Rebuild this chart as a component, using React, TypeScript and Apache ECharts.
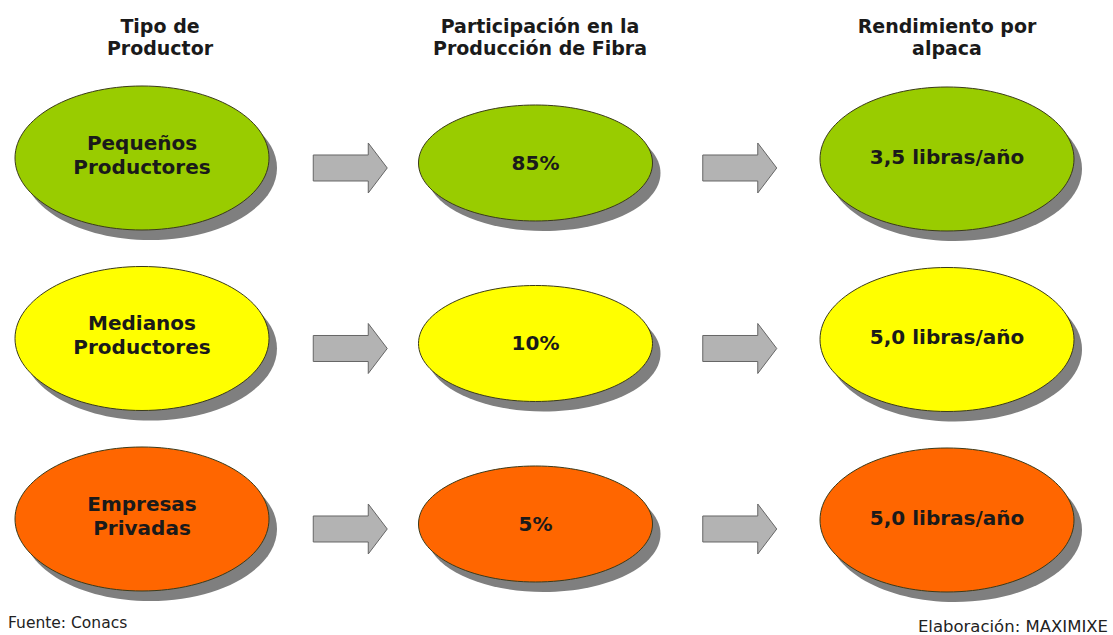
import React, { useEffect, useRef } from "react";
import * as echarts from "echarts";

const headers = ["Tipo de\nProductor", "Participación en la\nProducción de Fibra", "Rendimiento por\nalpaca"];
const producers = ["Pequeños\nProductores", "Medianos\nProductores", "Empresas\nPrivadas"];
const shares = [85, 10, 5];
const yields = [3.5, 5.0, 5.0];
const rowColors = ["#99cc00", "#ffff00", "#ff6600"];
const source = "Fuente: Conacs";
const credit = "Elaboración: MAXIMIXE";

// per-column ellipse radii and small layout nudges (styling only)
const colSize = [
  [127, 72],
  [117, 58],
  [127, 72],
];
const colNudge = [
  [0, 0],
  [-9, 5],
  [0, 1],
];
const textNudge = [-3, 0, -2];
const arrowNudge = [7, -6];

const FONT = "DejaVu Sans, Verdana, sans-serif";

export default function App() {
  const ref = useRef<HTMLDivElement>(null);
  useEffect(() => {
    if (!ref.current) return;
    const chart = echarts.init(ref.current, null, { renderer: "svg" });

    const fmt = (v: number) => v.toFixed(1).replace(".", ",") + " libras/año";
    const nodes: any[] = [];
    producers.forEach((p, r) => {
      nodes.push([0, r, p]);
      nodes.push([1, r, shares[r] + "%"]);
      nodes.push([2, r, fmt(yields[r])]);
    });
    const arrows: any[] = [];
    producers.forEach((_, r) => {
      arrows.push([0.5, r, 0]);
      arrows.push([1.5, r, 1]);
    });

    chart.setOption({
      animation: false,
      backgroundColor: "#ffffff",
      grid: { left: 0, right: 0, top: 0, bottom: 0 },
      xAxis: { type: "value", min: -0.3528, max: 2.4124, show: false },
      yAxis: { type: "value", min: -0.8753, max: 2.6427, inverse: true, show: false },
      graphic: [
        ...headers.map((h, i) => ({
          type: "text",
          x: [160, 540, 947][i],
          y: 37,
          style: {
            text: h,
            align: "center",
            verticalAlign: "middle",
            font: "bold 19px " + FONT,
            lineHeight: 22,
            fill: "#1a1a1a",
          },
        })),
        {
          type: "text",
          x: 8,
          y: 623,
          style: { text: source, align: "left", verticalAlign: "middle", font: "15.5px " + FONT, fill: "#222" },
        },
        {
          type: "text",
          x: 1108,
          y: 626,
          style: { text: credit, align: "right", verticalAlign: "middle", font: "16.5px " + FONT, fill: "#222" },
        },
      ],
      series: [
        {
          type: "custom",
          name: "nodes",
          data: nodes,
          renderItem: (params: any, api: any) => {
            const c = api.value(0);
            const r = api.value(1);
            const label = nodes[params.dataIndex][2];
            const [px, py] = api.coord([c, r]);
            const cx = px + colNudge[c][0];
            const cy = py + colNudge[c][1];
            const [rx, ry] = colSize[c];
            return {
              type: "group",
              children: [
                {
                  type: "ellipse",
                  shape: { cx: cx + 8, cy: cy + 10, rx, ry },
                  style: { fill: "#7f7f7f" },
                },
                {
                  type: "ellipse",
                  shape: { cx, cy, rx, ry },
                  style: { fill: rowColors[r], stroke: "#3a3a1a", lineWidth: 1 },
                },
                {
                  type: "text",
                  x: cx,
                  y: cy + textNudge[c],
                  style: {
                    text: label,
                    align: "center",
                    verticalAlign: "middle",
                    font: "bold 20px " + FONT,
                    lineHeight: 24,
                    fill: "#1a1a1a",
                  },
                },
              ],
            };
          },
        },
        {
          type: "custom",
          name: "arrows",
          data: arrows,
          renderItem: (params: any, api: any) => {
            const [px, py] = api.coord([api.value(0), api.value(1)]);
            const cx = px + arrowNudge[api.value(2)];
            const cy = py + 10;
            const pts = [
              [-37, -13],
              [18, -13],
              [18, -25],
              [37, 0],
              [18, 25],
              [18, 13],
              [-37, 13],
            ].map(([dx, dy]) => [cx + dx, cy + dy]);
            return {
              type: "polygon",
              shape: { points: pts },
              style: { fill: "#b3b3b3", stroke: "#666666", lineWidth: 1 },
            };
          },
        },
      ],
    });
    return () => chart.dispose();
  }, []);
  return (
    <div
      ref={ref}
      style={{ position: "absolute", left: 0, top: 0, width: 1113, height: 635 }}
    />
  );
}
